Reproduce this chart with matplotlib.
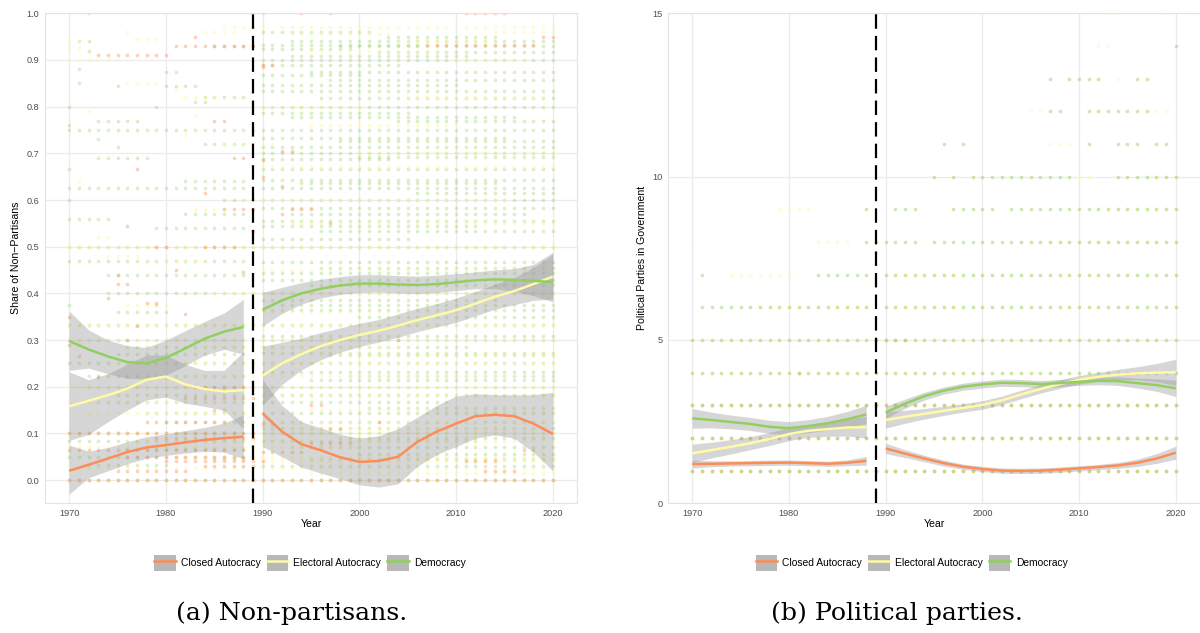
import matplotlib
matplotlib.use("Agg")
import matplotlib.pyplot as plt
from matplotlib.lines import Line2D
from matplotlib.patches import Patch

# ---------------- data ----------------
categories = ["Closed Autocracy", "Electoral Autocracy", "Democracy"]
colors = ["#FC8D59", "#FFFAA8", "#91CF60"]
point_colors = ["#FC8D59", "#FFF7A0", "#91CF60"]
cutoff_year = 1989

pre_years = [1970, 1972, 1974, 1976, 1978, 1980, 1982, 1984, 1986, 1988]
post_years = [1990, 1992, 1994, 1996, 1998, 2000, 2002, 2004, 2006, 2008,
              2010, 2012, 2014, 2016, 2018, 2020]

# Panel (a): share of non-partisans, smoothed fits
a_pre_closed = [0.020, 0.033, 0.046, 0.060, 0.070, 0.075, 0.081, 0.086, 0.090, 0.093]
a_pre_closed_lo = [-0.030, 0.005, 0.020, 0.035, 0.047, 0.053, 0.058, 0.062, 0.060, 0.046]
a_pre_closed_hi = [0.075, 0.062, 0.070, 0.082, 0.093, 0.099, 0.106, 0.113, 0.122, 0.140]
a_pre_elect = [0.158, 0.170, 0.182, 0.196, 0.215, 0.222, 0.205, 0.195, 0.190, 0.193]
a_pre_elect_lo = [0.085, 0.098, 0.125, 0.150, 0.172, 0.178, 0.165, 0.158, 0.150, 0.110]
a_pre_elect_hi = [0.232, 0.215, 0.228, 0.248, 0.268, 0.268, 0.248, 0.235, 0.235, 0.275]
a_pre_demo = [0.298, 0.280, 0.265, 0.253, 0.250, 0.262, 0.282, 0.303, 0.318, 0.328]
a_pre_demo_lo = [0.235, 0.240, 0.228, 0.218, 0.217, 0.225, 0.245, 0.268, 0.280, 0.270]
a_pre_demo_hi = [0.362, 0.322, 0.300, 0.288, 0.284, 0.300, 0.320, 0.340, 0.358, 0.387]

a_post_closed = [0.143, 0.104, 0.077, 0.064, 0.049, 0.039, 0.041, 0.050, 0.082, 0.104,
                 0.121, 0.137, 0.140, 0.137, 0.121, 0.099]
a_post_closed_lo = [0.072, 0.050, 0.028, 0.015, 0.003, -0.010, -0.015, -0.008, 0.030, 0.055,
                    0.072, 0.090, 0.097, 0.090, 0.060, 0.020]
a_post_closed_hi = [0.215, 0.160, 0.125, 0.112, 0.098, 0.090, 0.095, 0.110, 0.135, 0.160,
                    0.180, 0.185, 0.183, 0.183, 0.183, 0.188]
a_post_elect = [0.224, 0.250, 0.270, 0.287, 0.300, 0.311, 0.320, 0.331, 0.343, 0.353,
                0.364, 0.378, 0.393, 0.405, 0.420, 0.436]
a_post_elect_lo = [0.160, 0.205, 0.236, 0.258, 0.274, 0.286, 0.296, 0.306, 0.318, 0.328,
                   0.338, 0.352, 0.366, 0.376, 0.385, 0.388]
a_post_elect_hi = [0.287, 0.295, 0.304, 0.316, 0.326, 0.336, 0.344, 0.356, 0.368, 0.378,
                   0.390, 0.404, 0.420, 0.434, 0.455, 0.484]
a_post_demo = [0.365, 0.385, 0.400, 0.410, 0.417, 0.421, 0.421, 0.419, 0.418, 0.420,
               0.424, 0.428, 0.430, 0.429, 0.427, 0.424]
a_post_demo_lo = [0.330, 0.357, 0.377, 0.390, 0.398, 0.402, 0.403, 0.401, 0.400, 0.402,
                  0.406, 0.410, 0.410, 0.405, 0.395, 0.382]
a_post_demo_hi = [0.402, 0.413, 0.423, 0.430, 0.436, 0.440, 0.440, 0.438, 0.437, 0.439,
                  0.442, 0.446, 0.450, 0.453, 0.462, 0.488]

# Panel (b): political parties in government, smoothed fits
b_pre_closed = [1.20, 1.21, 1.22, 1.23, 1.24, 1.245, 1.23, 1.21, 1.24, 1.30]
b_pre_closed_lo = [1.08, 1.12, 1.14, 1.15, 1.16, 1.165, 1.15, 1.13, 1.15, 1.17]
b_pre_closed_hi = [1.32, 1.30, 1.30, 1.31, 1.32, 1.325, 1.31, 1.29, 1.33, 1.43]
b_pre_elect = [1.53, 1.63, 1.73, 1.84, 1.97, 2.12, 2.22, 2.27, 2.32, 2.33]
b_pre_elect_lo = [1.25, 1.39, 1.51, 1.64, 1.77, 1.92, 2.02, 2.05, 2.06, 2.00]
b_pre_elect_hi = [1.81, 1.87, 1.95, 2.04, 2.17, 2.32, 2.42, 2.49, 2.58, 2.66]
b_pre_demo = [2.60, 2.55, 2.49, 2.43, 2.34, 2.30, 2.36, 2.45, 2.57, 2.72]
b_pre_demo_lo = [2.30, 2.31, 2.28, 2.23, 2.14, 2.10, 2.16, 2.24, 2.33, 2.44]
b_pre_demo_hi = [2.90, 2.79, 2.70, 2.63, 2.54, 2.50, 2.56, 2.66, 2.81, 3.00]

b_post_closed = [1.68, 1.52, 1.37, 1.23, 1.12, 1.05, 1.00, 0.99, 1.00, 1.03,
                 1.07, 1.11, 1.16, 1.24, 1.37, 1.55]
b_post_closed_lo = [1.52, 1.40, 1.27, 1.14, 1.04, 0.97, 0.92, 0.91, 0.92, 0.95,
                    0.99, 1.03, 1.07, 1.13, 1.22, 1.35]
b_post_closed_hi = [1.84, 1.64, 1.47, 1.32, 1.20, 1.13, 1.08, 1.07, 1.08, 1.11,
                    1.15, 1.19, 1.25, 1.35, 1.52, 1.75]
b_post_elect = [2.55, 2.65, 2.74, 2.83, 2.92, 3.01, 3.15, 3.33, 3.50, 3.65,
                3.78, 3.87, 3.94, 3.98, 4.00, 4.01]
b_post_elect_lo = [2.30, 2.45, 2.58, 2.69, 2.79, 2.88, 3.02, 3.20, 3.37, 3.52,
                   3.65, 3.73, 3.78, 3.78, 3.72, 3.61]
b_post_elect_hi = [2.80, 2.85, 2.90, 2.97, 3.05, 3.14, 3.28, 3.46, 3.63, 3.78,
                   3.91, 4.01, 4.10, 4.18, 4.28, 4.41]
b_post_demo = [2.78, 3.05, 3.28, 3.45, 3.57, 3.64, 3.69, 3.68, 3.65, 3.68,
               3.72, 3.75, 3.74, 3.68, 3.62, 3.52]
b_post_demo_lo = [2.59, 2.91, 3.16, 3.34, 3.46, 3.53, 3.58, 3.57, 3.54, 3.57,
                  3.61, 3.63, 3.61, 3.53, 3.43, 3.27]
b_post_demo_hi = [2.97, 3.19, 3.40, 3.56, 3.68, 3.75, 3.80, 3.79, 3.76, 3.79,
                  3.83, 3.87, 3.87, 3.83, 3.81, 3.77]

# Scatter points, read as horizontal runs: value, first year, last year
a_closed_val = [0.0, 0.91, 0.93, 0.95, 0.933, 0.95, 1.0, 1.0, 1.0, 0.885, 0.89, 0.77, 0.69, 0.685,
                0.705, 0.667, 0.615, 0.58, 0.58, 0.57, 0.545, 0.5, 0.5, 0.533, 0.55, 0.63, 0.65,
                0.44, 0.42, 0.39, 0.38, 0.355, 0.35, 0.29, 0.30, 0.33, 0.265, 0.22, 0.20, 0.175,
                0.15, 0.125, 0.10, 0.09, 0.065, 0.05, 0.04, 0.03, 0.02, 0.06, 0.08,
                0.11, 0.12, 0.125, 0.16, 0.02, 0.04, 0.065, 0.445, 0.45, 0.30]
a_closed_from = [1970, 1973, 1981, 1983, 2007, 2019, 2011, 1994, 1997, 1990, 1990, 1985, 1987, 1990,
                 1992, 1977, 1984, 1986, 1993, 1992, 1976, 1979, 1984, 1989, 1997, 1992, 1990,
                 1975, 1975, 1974, 1978, 1982, 1970, 1970, 1976, 1977, 1971, 1973, 1983, 1982,
                 1985, 1978, 1970, 1979, 1970, 1976, 1980, 1984, 1975, 1990, 1995,
                 1997, 1990, 2002, 1995, 2013, 2011, 2017, 1988, 1981, 2004]
a_closed_to = [2020, 1980, 1989, 1983, 2018, 2020, 2015, 1994, 1997, 1990, 1991, 1986, 1988, 1990,
               1993, 1977, 1984, 1989, 1995, 1992, 1976, 1980, 1987, 1989, 1997, 1992, 1990,
               1975, 1976, 1974, 1979, 1982, 1970, 1971, 1976, 1977, 1971, 1973, 1988, 1989,
               1986, 1986, 1989, 1989, 1988, 1988, 1990, 1989, 1982, 1994, 1999,
               1998, 1991, 2002, 1996, 2016, 2014, 2018, 1988, 1981, 2004]

a_elect_val = [0.0, 0.5, 0.333, 0.25, 0.94, 0.925, 0.9, 0.96, 0.945, 0.96, 0.97, 0.97, 0.955, 0.94,
               0.96, 0.92, 0.9, 0.85, 0.835, 0.82, 0.79, 0.78, 0.74, 0.8, 0.82, 0.76, 0.72, 0.7,
               0.67, 0.64, 0.6, 0.58, 0.55, 0.52, 0.48, 0.47, 0.45, 0.4, 0.375, 0.36, 0.3, 0.286,
               0.27, 0.2, 0.222, 0.18, 0.167, 0.15, 0.143, 0.125, 0.11, 0.1, 0.083, 0.07, 0.05,
               0.04, 0.025, 0.015]
a_elect_from = [1970, 1970, 1970, 1975, 1970, 1970, 1970, 1976, 1977, 1984, 1986, 1992, 1993, 2004,
                2014, 1995, 2010, 1976, 1981, 1982, 1972, 1983, 1982, 1990, 2005, 1995, 1986, 2000,
                1990, 1971, 1988, 1983, 1993, 1973, 1974, 1980, 1990, 1985, 1976, 1990, 1970, 1984,
                1995, 1970, 1983, 1990, 1970, 1995, 1972, 1985, 1990, 1970, 1977, 1970, 1980,
                1990, 1970, 1995]
a_elect_to = [2020, 2020, 2020, 2020, 1971, 1971, 1975, 1976, 1979, 1987, 1990, 2020, 2003, 2013,
              2020, 2008, 2017, 1979, 1981, 1985, 1972, 1983, 1982, 2000, 2019, 2010, 1991, 2020,
              2020, 1971, 2015, 1986, 2020, 1974, 1977, 1983, 2020, 2020, 1980, 2010, 2020, 2004,
              2020, 2020, 2015, 2020, 1988, 2020, 1990, 2020, 2018, 2020, 2020, 2000, 2020,
              2020, 2020, 2020]

a_demo_val = [0.0, 0.5, 0.333, 0.25, 0.2, 0.4, 0.667, 0.667, 0.75, 0.6, 0.6,
              0.94, 0.92, 0.88, 0.85, 0.845, 0.8, 0.8, 0.76, 0.77, 0.73, 0.714, 0.69, 0.875, 0.845,
              0.93, 0.82, 0.81, 0.72, 0.64, 0.625, 0.57, 0.54, 0.56, 0.47, 0.44, 0.375, 0.375,
              0.36, 0.3, 0.286, 0.27, 0.222, 0.182, 0.167, 0.143, 0.125, 0.1, 0.083, 0.067, 0.05,
              0.045, 0.033,
              0.96, 0.95, 0.941, 0.933, 0.929, 0.923, 0.917, 0.909, 0.9, 0.889, 0.875, 0.867,
              0.857, 0.846, 0.833, 0.818, 0.8, 0.786, 0.778, 0.769, 0.733, 0.727, 0.714, 0.7,
              0.692, 0.688, 0.643, 0.636, 0.625, 0.615, 0.583, 0.571, 0.556, 0.545, 0.533, 0.517,
              0.467, 0.455, 0.444, 0.429, 0.417, 0.385, 0.375, 0.364, 0.35, 0.308, 0.3, 0.286,
              0.273, 0.267, 0.231, 0.222, 0.214, 0.182, 0.167, 0.154, 0.143, 0.125, 0.111, 0.1,
              0.091, 0.083, 0.071, 0.056, 0.045, 0.03, 1.0, 1.0]
a_demo_from = [1970, 1970, 1970, 1970, 1972, 1974, 1970, 1990, 1970, 1970, 1986,
               1971, 1972, 1971, 1971, 1975, 1970, 1979, 1970, 1973, 1973, 1975, 1973, 1980, 1980,
               1985, 1984, 1983, 1984, 1982, 1970, 1982, 1979, 1970, 1970, 1974, 1970, 1979,
               1975, 1970, 1976, 1975, 1972, 1975, 1973, 1978, 1980, 1970, 1970, 1976, 1970,
               1985, 1972,
               1990, 2003, 1993, 1990, 1998, 1990, 2002, 1993, 1990, 1990, 1995, 1990,
               1997, 1990, 1990, 1996, 1990, 1990, 1993, 2004, 1990, 1998, 1990, 1990,
               2000, 1990, 1990, 1994, 1990, 2006, 1990, 1993, 1990, 1990, 1996, 1990,
               1990, 1996, 1990, 1990, 1995, 1990, 1992, 1990, 2000, 1990, 1990, 1990,
               1990, 1997, 1990, 1999, 1995, 1990, 1990, 2001, 1990, 1990, 1990, 1990,
               1998, 1990, 1993, 2000, 1995, 1990, 1972, 1990]
a_demo_to = [2020, 2020, 2020, 2020, 2020, 2020, 1970, 2020, 2020, 1970, 2020,
             1972, 1972, 1971, 1971, 1975, 1970, 1979, 1970, 1977, 1973, 1975, 1978, 1981, 1983,
             1989, 1988, 1984, 1988, 1988, 1988, 1988, 1988, 1974, 1988, 1988, 1970, 1979,
             1980, 1988, 1988, 1988, 1988, 1988, 1988, 1988, 1988, 1988, 1988, 1988, 1988,
             1988, 1980,
             2001, 2014, 2020, 2006, 2020, 1999, 2020, 2011, 2020, 2004, 2020, 2000,
             2020, 2010, 2020, 2020, 2020, 2005, 2016, 2020, 2015, 2020, 2020, 2020,
             2020, 2003, 2020, 2014, 2020, 2020, 2020, 2017, 2020, 2012, 2020, 2005,
             2020, 2020, 2020, 2020, 2020, 2014, 2020, 2020, 2020, 2020, 2020, 2011,
             2020, 2020, 2020, 2020, 2020, 2020, 2009, 2020, 2020, 2020, 2020, 2020,
             2020, 2012, 2020, 2020, 2020, 2020, 1972, 1990]

b_closed_val = [1, 2, 3, 4, 5]
b_closed_from = [1970, 1970, 1970, 1981, 1989]
b_closed_to = [2020, 2020, 2020, 1981, 1992]

b_elect_val = [1, 2, 3, 4, 5, 6, 6, 7, 7, 8, 8, 9, 10, 11, 12, 12, 13, 14, 15, 15, 8, 9, 10]
b_elect_from = [1970, 1970, 1970, 1970, 1970, 1976, 1990, 1974, 1990, 1970, 1983, 1979, 2010,
                2007, 2005, 2018, 2014, 2012, 2013, 2019, 2004, 2012, 2017]
b_elect_to = [2020, 2020, 2020, 2020, 2020, 1988, 2020, 1980, 2020, 1970, 1986, 1982, 2011,
              2009, 2006, 2019, 2014, 2013, 2014, 2019, 2020, 2020, 2020]

b_demo_val = [1, 2, 3, 4, 5, 6, 6, 7, 7, 7, 8, 8, 9, 9, 9, 9, 10, 10, 10, 10, 11, 11, 11, 11,
              11, 12, 12, 13, 13, 13, 14]
b_demo_from = [1970, 1970, 1970, 1970, 1970, 1971, 1990, 1971, 1983, 1990, 1988, 1995, 1988,
               1991, 1997, 2003, 1995, 1997, 1999, 2014, 1996, 1998, 2011, 2014, 2018, 2007,
               2011, 2007, 2009, 2016, 2020]
b_demo_to = [2020, 2020, 2020, 2020, 2020, 1988, 2020, 1971, 1988, 2020, 1993, 2020, 1988,
             1993, 2001, 2020, 1995, 1997, 2009, 2020, 1996, 1998, 2011, 2016, 2019, 2008,
             2017, 2007, 2012, 2017, 2020]

x_ticks = [1970, 1980, 1990, 2000, 2010, 2020]
a_y_ticks = [0.0, 0.1, 0.2, 0.3, 0.4, 0.5, 0.6, 0.7, 0.8, 0.9, 1.0]
b_y_ticks = [0, 5, 10, 15]

# ---------------- drawing ----------------
plt.rcParams["font.family"] = ["Liberation Sans", "DejaVu Sans"]

W, H = 1200, 633
fig = plt.figure(figsize=(W / 100, H / 100), dpi=100)


def px_axes(l, t, r, b):
    return fig.add_axes([l / W, 1 - b / H, (r - l) / W, (b - t) / H])


ax_a = px_axes(45, 13.3, 577, 503)
ax_b = px_axes(668, 13.3, 1200, 503.3)


def expand_runs(vals, starts, ends):
    xs, ys = [], []
    for v, s, e in zip(vals, starts, ends):
        for yr in range(s, e + 1):
            xs.append(yr)
            ys.append(v)
    return xs, ys


def draw_panel(ax, runs, fits, ylim, yticks, ytlabels, ylabel, order, alphas):
    ax.set_facecolor("white")
    for yv in yticks:
        ax.axhline(yv, color="#EBEBEB", lw=0.9, zorder=0)
    for xv in x_ticks:
        ax.axvline(xv, color="#EBEBEB", lw=0.9, zorder=0)
    for idx in order:
        xs, ys = expand_runs(*runs[idx])
        ax.scatter(xs, ys, s=7, color=point_colors[idx], alpha=alphas[idx],
                   linewidths=0, zorder=1)
    # smooth fits
    for idx in [0, 1, 2]:
        for yrs, (m, lo, hi) in zip([pre_years, post_years], fits[idx]):
            ax.fill_between(yrs, lo, hi, color="#999999", alpha=0.4,
                            linewidth=0, zorder=2)
    for idx in [0, 1, 2]:
        for yrs, (m, lo, hi) in zip([pre_years, post_years], fits[idx]):
            ax.plot(yrs, m, color=colors[idx], lw=1.8, zorder=3,
                    solid_capstyle="butt")
    ax.axvline(cutoff_year, color="black", lw=1.6, ls=(0, (6.5, 3.2)), zorder=4)
    ax.set_xlim(1967.5, 2022.5)
    ax.set_ylim(*ylim)
    ax.set_xticks(x_ticks)
    ax.set_xticklabels([str(t) for t in x_ticks])
    ax.set_yticks(yticks)
    ax.set_yticklabels(ytlabels)
    ax.tick_params(length=0, labelsize=6.6, labelcolor="#4D4D4D", pad=4)
    for sp in ax.spines.values():
        sp.set_color("#E3E3E3")
        sp.set_linewidth(0.8)
    ax.set_xlabel("Year", fontsize=7.6, labelpad=1)
    ax.set_ylabel(ylabel, fontsize=7.6, labelpad=4)


runs_a = [(a_closed_val, a_closed_from, a_closed_to),
          (a_elect_val, a_elect_from, a_elect_to),
          (a_demo_val, a_demo_from, a_demo_to)]
fits_a = [[(a_pre_closed, a_pre_closed_lo, a_pre_closed_hi),
           (a_post_closed, a_post_closed_lo, a_post_closed_hi)],
          [(a_pre_elect, a_pre_elect_lo, a_pre_elect_hi),
           (a_post_elect, a_post_elect_lo, a_post_elect_hi)],
          [(a_pre_demo, a_pre_demo_lo, a_pre_demo_hi),
           (a_post_demo, a_post_demo_lo, a_post_demo_hi)]]
runs_b = [(b_closed_val, b_closed_from, b_closed_to),
          (b_elect_val, b_elect_from, b_elect_to),
          (b_demo_val, b_demo_from, b_demo_to)]
fits_b = [[(b_pre_closed, b_pre_closed_lo, b_pre_closed_hi),
           (b_post_closed, b_post_closed_lo, b_post_closed_hi)],
          [(b_pre_elect, b_pre_elect_lo, b_pre_elect_hi),
           (b_post_elect, b_post_elect_lo, b_post_elect_hi)],
          [(b_pre_demo, b_pre_demo_lo, b_pre_demo_hi),
           (b_post_demo, b_post_demo_lo, b_post_demo_hi)]]

draw_panel(ax_a, runs_a, fits_a, (-0.049, 1.0), a_y_ticks,
           ["%.1f" % t for t in a_y_ticks], "Share of Non\u2212Partisans",
           order=[2, 1, 0], alphas=[0.4, 0.45, 0.33])
draw_panel(ax_b, runs_b, fits_b, (0, 15), b_y_ticks,
           [str(t) for t in b_y_ticks], "Political Parties in Government",
           order=[0, 1, 2], alphas=[0.45, 0.4, 0.45])

# legends
handles = [(Patch(facecolor="#B8B8B8", edgecolor="none"),
            Line2D([], [], color=c, lw=1.8)) for c in colors]
for cx in [310, 911.5]:
    fig.legend(handles, categories, loc="center", bbox_to_anchor=(cx / W, 1 - 563 / H),
               ncol=3, frameon=False, fontsize=7.4, handlelength=2.1, handleheight=2.0,
               handletextpad=0.5, columnspacing=0.6, borderpad=0)

# captions
fig.text(292 / W, 1 - 613 / H, "(a) Non-partisans.", family="DejaVu Serif",
         fontsize=18.2, ha="center", va="center")
fig.text(897 / W, 1 - 613 / H, "(b) Political parties.", family="DejaVu Serif",
         fontsize=18.2, ha="center", va="center")

fig.savefig("out.png", dpi=100, facecolor="white")
